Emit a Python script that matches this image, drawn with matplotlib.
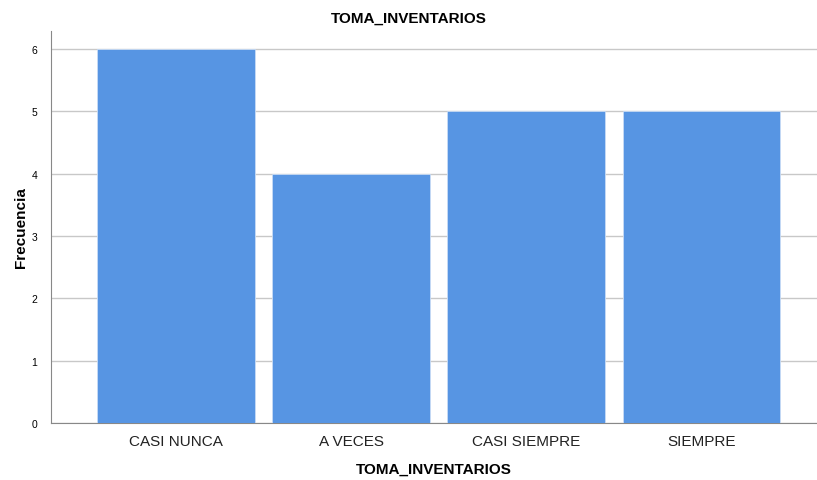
import matplotlib
matplotlib.use("Agg")
import matplotlib.pyplot as plt

plt.rcParams["font.family"] = ["Liberation Sans", "DejaVu Sans"]

categories = ["CASI NUNCA", "A VECES", "CASI SIEMPRE", "SIEMPRE"]
frecuencia = [6, 4, 5, 5]
y_ticks = [0, 1, 2, 3, 4, 5, 6]

BAR_COLOR = "#5795E3"

fig = plt.figure(figsize=(8.17, 4.81), dpi=100)
ax = fig.add_axes([0.0624, 0.1185, 0.9376, 0.815])

x = list(range(len(categories)))
ax.bar(x, frecuencia, width=0.9, color=BAR_COLOR, edgecolor="#C9DCF5", linewidth=0.6, zorder=3)

ax.set_xlim(-0.714, 3.66)
ax.set_ylim(0, 6.29)
ax.set_yticks(y_ticks)
ax.set_yticklabels([str(v) for v in y_ticks], fontsize=7.5)
ax.set_xticks(x)
ax.set_xticklabels(categories, fontsize=11, color="#222222")
ax.tick_params(axis="both", length=0)
ax.tick_params(axis="y", pad=10)
ax.tick_params(axis="x", pad=8)

ax.grid(axis="y", color="#C8C8C8", linewidth=1, zorder=0)
for side in ["top", "right"]:
    ax.spines[side].set_visible(False)
ax.spines["left"].set_color("#888888")
ax.spines["bottom"].set_color("#888888")

ax.set_ylabel("Frecuencia", fontsize=11, fontweight="bold", labelpad=2)
ax.set_xlabel("TOMA_INVENTARIOS", fontsize=11, fontweight="bold", labelpad=10)
fig.text(0.5, 0.962, "TOMA_INVENTARIOS", ha="center", va="center", fontsize=11, fontweight="bold")

fig.savefig("out.png", dpi=100)
